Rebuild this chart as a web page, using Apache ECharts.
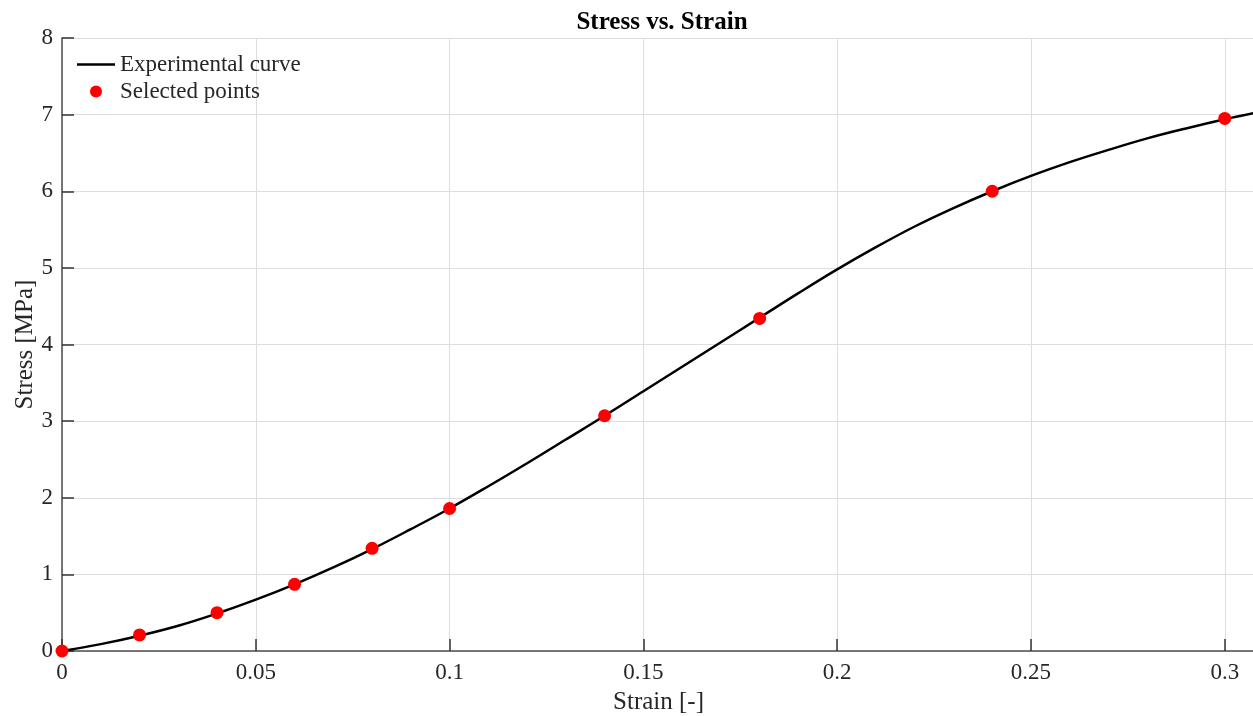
<!DOCTYPE html>
<html>
<head>
<meta charset="utf-8">
<script src="https://cdn.jsdelivr.net/npm/echarts@6/dist/echarts.min.js"></script>
<style>
  html, body { margin: 0; padding: 0; background: #fff; }
  #main { width: 1253px; height: 716px; }
</style>
</head>
<body>
<div id="main"></div>
<script>
// experimental curve (strain, stress)
var curveStrain = [0, 0.01, 0.02, 0.03, 0.04, 0.05, 0.06, 0.07, 0.08, 0.09, 0.10,
    0.11, 0.12, 0.13, 0.14, 0.15, 0.16, 0.17, 0.18, 0.19, 0.20,
    0.21, 0.22, 0.23, 0.24, 0.25, 0.26, 0.27, 0.28, 0.29, 0.30, 0.3075];
var curveStress = [0, 0.09, 0.20, 0.33, 0.49, 0.67, 0.87, 1.09, 1.33, 1.59, 1.86,
    2.15, 2.45, 2.76, 3.07, 3.39, 3.71, 4.03, 4.35, 4.67, 4.98,
    5.27, 5.54, 5.78, 6.00, 6.20, 6.38, 6.54, 6.69, 6.82, 6.94, 7.02];

// selected points
var selStrain = [0, 0.02, 0.04, 0.06, 0.08, 0.10, 0.14, 0.18, 0.24, 0.30];
var selStress = [0, 0.21, 0.50, 0.87, 1.34, 1.86, 3.07, 4.34, 6.00, 6.95];

var FONT = '"Liberation Serif", "Times New Roman", serif';
var TXT = '#262626';

function pairs(xs, ys) {
    var out = [];
    for (var i = 0; i < xs.length; i++) out.push([xs[i], ys[i]]);
    return out;
}

var myChart = echarts.init(document.getElementById('main'));
var option = {
    animation: false,
    backgroundColor: '#fff',
    textStyle: { fontFamily: FONT, color: TXT },
    title: {
        text: 'Stress vs. Strain',
        left: 657, textAlign: 'center',
        top: 5,
        textStyle: { fontFamily: FONT, fontSize: 25, fontWeight: 'bold', color: '#000' }
    },
    legend: {
        orient: 'vertical',
        left: 72, top: 48,
        itemWidth: 38, itemHeight: 12,
        itemGap: 4,
        textStyle: { fontFamily: FONT, fontSize: 23, color: TXT },
        data: [
            // plain line icon (tiny corner specks keep the path box 38x12)
            { name: 'Experimental curve', icon: 'path://M0,0h0.05v0.05h-0.05z M0,4.8h38v2.4h-38z M37.95,11.95h0.05v0.05h-0.05z' },
            { name: 'Selected points', icon: 'circle' }
        ]
    },
    // width pushes the right edge just off the canvas, as in the figure
    grid: { left: 62, width: 1193, top: 38, bottom: 65, outerBoundsMode: 'none', containLabel: false },
    xAxis: {
        type: 'value',
        min: 0, max: 0.3078, interval: 0.05,
        name: 'Strain [-]',
        nameLocation: 'middle',
        nameGap: 39,
        nameMoveOverlap: false,
        nameTextStyle: { fontFamily: FONT, fontSize: 25, color: TXT },
        axisLine: { lineStyle: { color: '#4d4d4d', width: 1.5 } },
        axisTick: { inside: true, length: 12, lineStyle: { color: '#333', width: 1.5 } },
        axisLabel: { showMaxLabel: false, margin: 10, fontFamily: FONT, fontSize: 23, color: TXT },
        splitLine: { show: true, lineStyle: { color: '#dedede', width: 1 } }
    },
    yAxis: {
        type: 'value',
        min: 0, max: 8, interval: 1,
        name: 'Stress [MPa]',
        nameLocation: 'middle',
        nameGap: 24,
        nameMoveOverlap: false,
        nameTextStyle: { fontFamily: FONT, fontSize: 25, color: TXT },
        axisLine: { show: true, lineStyle: { color: '#4d4d4d', width: 1.5 } },
        axisTick: { show: true, inside: true, length: 12, lineStyle: { color: '#333', width: 1.5 } },
        axisLabel: { margin: 9, fontFamily: FONT, fontSize: 23, color: TXT },
        splitLine: { show: true, lineStyle: { color: '#dedede', width: 1 } }
    },
    series: [
        {
            name: 'Experimental curve',
            type: 'line',
            smooth: 0.4,
            symbol: 'none',
            color: '#000',
            lineStyle: { color: '#000', width: 2.5 },
            data: pairs(curveStrain, curveStress),
            z: 2
        },
        {
            name: 'Selected points',
            type: 'scatter',
            symbol: 'circle',
            symbolSize: 13,
            color: '#ff0000',
            itemStyle: { color: '#ff0000', opacity: 1 },
            data: pairs(selStrain, selStress),
            z: 3
        }
    ]
};
myChart.setOption(option);
</script>
</body>
</html>
